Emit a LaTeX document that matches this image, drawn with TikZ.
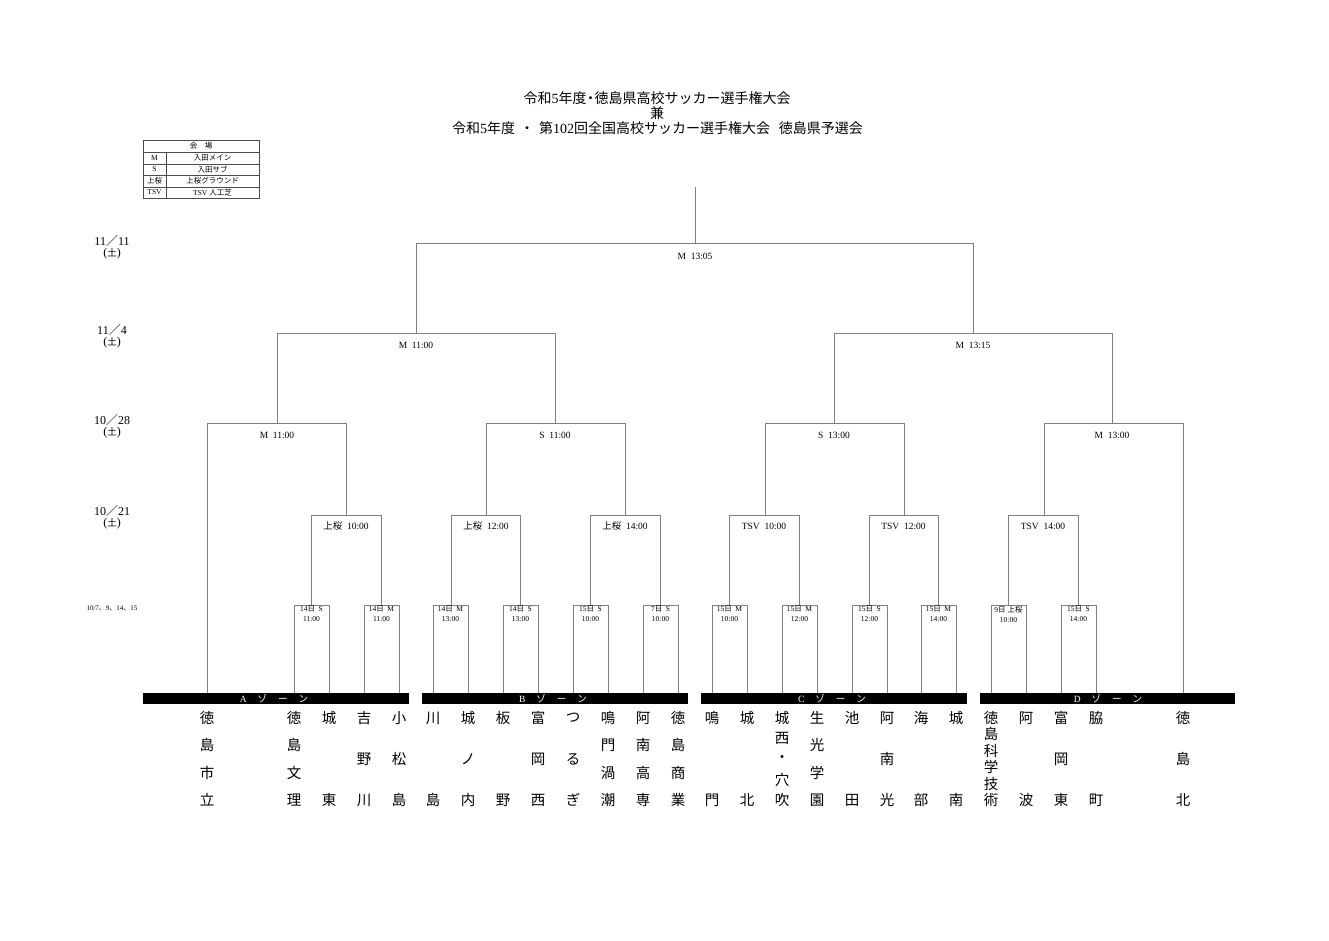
\documentclass[tikz,border=0pt]{standalone}
\usepackage{fontspec}
\setmainfont{Liberation Serif}
\newfontfamily\jp{Noto Sans CJK JP}
\definecolor{linegray}{HTML}{808080}
\newcommand\matchline[4]{\draw[br] (#1,#4) |- (#2,#3) -- (#2,#4);}
\newcommand\teamcol[3]{%
  \foreach \c [count=\i] in {#3} {
    \node[tm] (t-#1-\i) at (#1, {718 + (\i-1)*82/(#2-1)}) {\c};
  }}
\newcommand\zonetxt[1]{#1\hspace{11pt}{\jp ゾ}\hspace{11pt}{\jp ー}\hspace{11pt}{\jp ン}}
\newcommand\rlab[3]{#1{\jp 日}\hspace{3.5pt}#2\\#3}
\begin{document}
\begin{tikzpicture}[x=1pt,y=-1pt,
  br/.style={draw=linegray, line width=0.8pt},
  ml/.style={font=\fontsize{9.5}{10}\selectfont, inner sep=0},
  rl/.style={font=\fontsize{7.5}{10}\selectfont, align=center, inner sep=0, anchor=north},
  tm/.style={font=\jp\fontsize{14.5}{15}\selectfont, inner sep=0},
  dl/.style={font=\fontsize{12}{11}\selectfont, align=center, inner sep=0},
  zb/.style={fill=black},
  zl/.style={font=\fontsize{9.5}{10}\selectfont, text=white, inner sep=0},
  lg/.style={font=\fontsize{7.5}{7.5}\selectfont, inner sep=0},
  tt/.style={font=\fontsize{14}{15}\selectfont, inner sep=0}]
\useasboundingbox[fill=white] (0,0) rectangle (1329,940);

% title
\node[tt] (title1) at (657,98) {{\jp 令和}5{\jp 年度}{\jp\hspace{-3pt}・\hspace{-3pt}}{\jp 徳島県高校サッカー選手権大会}};
\node[tt] (title2) at (657,113) {{\jp 兼}};
\node[tt] (title3) at (657.5,128) {{\jp 令和}5{\jp 年度}\hspace{5pt}{\jp ・}\hspace{5pt}{\jp 第}102{\jp 回全国高校サッカー選手権大会}\hspace{9pt}{\jp 徳島県予選会}};

% legend
\draw[draw=black!70, line width=0.5pt] (143,140) rectangle (259,198);
\foreach \yy in {152,164,175,187} \draw[draw=black!70, line width=0.5pt] (143,\yy) -- (259,\yy);
\draw[draw=black!70, line width=0.5pt] (166,152) -- (166,198);
\node[lg] (lg0) at (201,146) {{\jp 会　場}};
\node[lg] (lg1a) at (154.5,158) {M};
\node[lg] (lg1b) at (212.5,158) {{\jp 入田メイン}};
\node[lg] (lg2a) at (154.5,169.5) {S};
\node[lg] (lg2b) at (212.5,169.5) {{\jp 入田サブ}};
\node[lg] (lg3a) at (154.5,181) {{\jp 上桜}};
\node[lg] (lg3b) at (212.5,181) {{\jp 上桜グラウンド}};
\node[lg] (lg4a) at (154.5,192.5) {TSV};
\node[lg] (lg4b) at (212.5,192.5) {TSV {\jp 人工芝}};

% dates
\node[dl] (d1) at (112,247) {11{\jp ／}11\\({\jp\fontsize{9.5}{9}\selectfont 土})};
\node[dl] (d2) at (112,336) {11{\jp ／}4\\({\jp\fontsize{9.5}{9}\selectfont 土})};
\node[dl] (d3) at (112,426) {10{\jp ／}28\\({\jp\fontsize{9.5}{9}\selectfont 土})};
\node[dl] (d4) at (112,517) {10{\jp ／}21\\({\jp\fontsize{9.5}{9}\selectfont 土})};
\node[font=\fontsize{7}{8}\selectfont, inner sep=0] (d5) at (112,608) {10/7{\jp 、}9{\jp 、}14{\jp 、}15};

% bracket
\draw[br] (695,187) -- (695,243);
\matchline{416}{973}{243}{333}
\matchline{277}{555}{333}{423}
\matchline{834}{1112}{333}{423}
% quarter finals
\draw[br] (207,693) |- (346,423) -- (346,515);
\matchline{486}{625}{423}{515}
\matchline{765}{904}{423}{515}
\draw[br] (1044,515) |- (1183,423) -- (1183,693);
% round 2
\foreach \a/\b in {311/381,451/520,590/660,729/799,869/938} { \matchline{\a}{\b}{515}{605} }
\matchline{1008}{1078}{515}{605}
% round 1
\foreach \a/\b in {294/329,364/399,433/468,503/538,573/608,643/678,712/747,782/817,852/887,921/956,991/1026,1061/1096} { \matchline{\a}{\b}{605}{693} }

% match labels
\node[ml] (mF) at (695,256) {M\ \ 13:05};
\node[ml] (mS1) at (416,345) {M\ \ 11:00};
\node[ml] (mS2) at (973,345) {M\ \ 13:15};
\node[ml] (mQ1) at (277,435) {M\ \ 11:00};
\node[ml] (mQ2) at (555,435) {S\ \ 11:00};
\node[ml] (mQ3) at (834,435) {S\ \ 13:00};
\node[ml] (mQ4) at (1112,435) {M\ \ 13:00};
\node[ml] (mR1) at (346,526) {{\jp 上桜}\ \ 10:00};
\node[ml] (mR2) at (486,526) {{\jp 上桜}\ \ 12:00};
\node[ml] (mR3) at (625,526) {{\jp 上桜}\ \ 14:00};
\node[ml] (mR4) at (764,526) {TSV\ \ 10:00};
\node[ml] (mR5) at (903.5,526) {TSV\ \ 12:00};
\node[ml] (mR6) at (1043,526) {TSV\ \ 14:00};

% round 1 labels
\node[rl] (r1) at (311.5,605.5) {\rlab{14}{S}{11:00}};
\node[rl] (r2) at (381.5,605.5) {\rlab{14}{M}{11:00}};
\node[rl] (r3) at (450.5,605.5) {\rlab{14}{M}{13:00}};
\node[rl] (r4) at (520.5,605.5) {\rlab{14}{S}{13:00}};
\node[rl] (r5) at (590.5,605.5) {\rlab{15}{S}{10:00}};
\node[rl] (r6) at (660.5,605.5) {\rlab{7}{S}{10:00}};
\node[rl] (r7) at (729.5,605.5) {\rlab{15}{M}{10:00}};
\node[rl] (r8) at (799.5,605.5) {\rlab{15}{M}{12:00}};
\node[rl] (r9) at (869.5,605.5) {\rlab{15}{S}{12:00}};
\node[rl] (r10) at (938.5,605.5) {\rlab{15}{M}{14:00}};
\node[rl] (r11) at (1008.5,605.5) {9{\jp 日}\hspace{2pt}{\jp 上桜}\\10:00};
\node[rl] (r12) at (1078.5,605.5) {\rlab{15}{S}{14:00}};

% zone bars
\fill[zb] (143,693) rectangle (409,704);
\fill[zb] (422,693) rectangle (688,704);
\fill[zb] (701,693) rectangle (967,704);
\fill[zb] (980,693) rectangle (1235,704);
\node[zl] (zA) at (274,698.5) {\zonetxt{A}};
\node[zl] (zB) at (553,698.5) {\zonetxt{B}};
\node[zl] (zC) at (832,698.5) {\zonetxt{C}};
\node[zl] (zD) at (1108,698.5) {\zonetxt{D}};

% teams
\teamcol{207}{4}{徳,島,市,立}
\teamcol{294}{4}{徳,島,文,理}
\teamcol{329}{2}{城,東}
\teamcol{364}{3}{吉,野,川}
\teamcol{399}{3}{小,松,島}
\teamcol{433}{2}{川,島}
\teamcol{468}{3}{城,ノ,内}
\teamcol{503}{2}{板,野}
\teamcol{538}{3}{富,岡,西}
\teamcol{573}{3}{つ,る,ぎ}
\teamcol{608}{4}{鳴,門,渦,潮}
\teamcol{643}{4}{阿,南,高,専}
\teamcol{678}{4}{徳,島,商,業}
\teamcol{712}{2}{鳴,門}
\teamcol{747}{2}{城,北}
\teamcol{782}{5}{城,西,・,穴,吹}
\teamcol{817}{4}{生,光,学,園}
\teamcol{852}{2}{池,田}
\teamcol{887}{3}{阿,南,光}
\teamcol{921}{2}{海,部}
\teamcol{956}{2}{城,南}
\teamcol{991}{6}{徳,島,科,学,技,術}
\teamcol{1026}{2}{阿,波}
\teamcol{1061}{3}{富,岡,東}
\teamcol{1096}{2}{脇,町}
\teamcol{1183}{3}{徳,島,北}
\end{tikzpicture}
\end{document}
